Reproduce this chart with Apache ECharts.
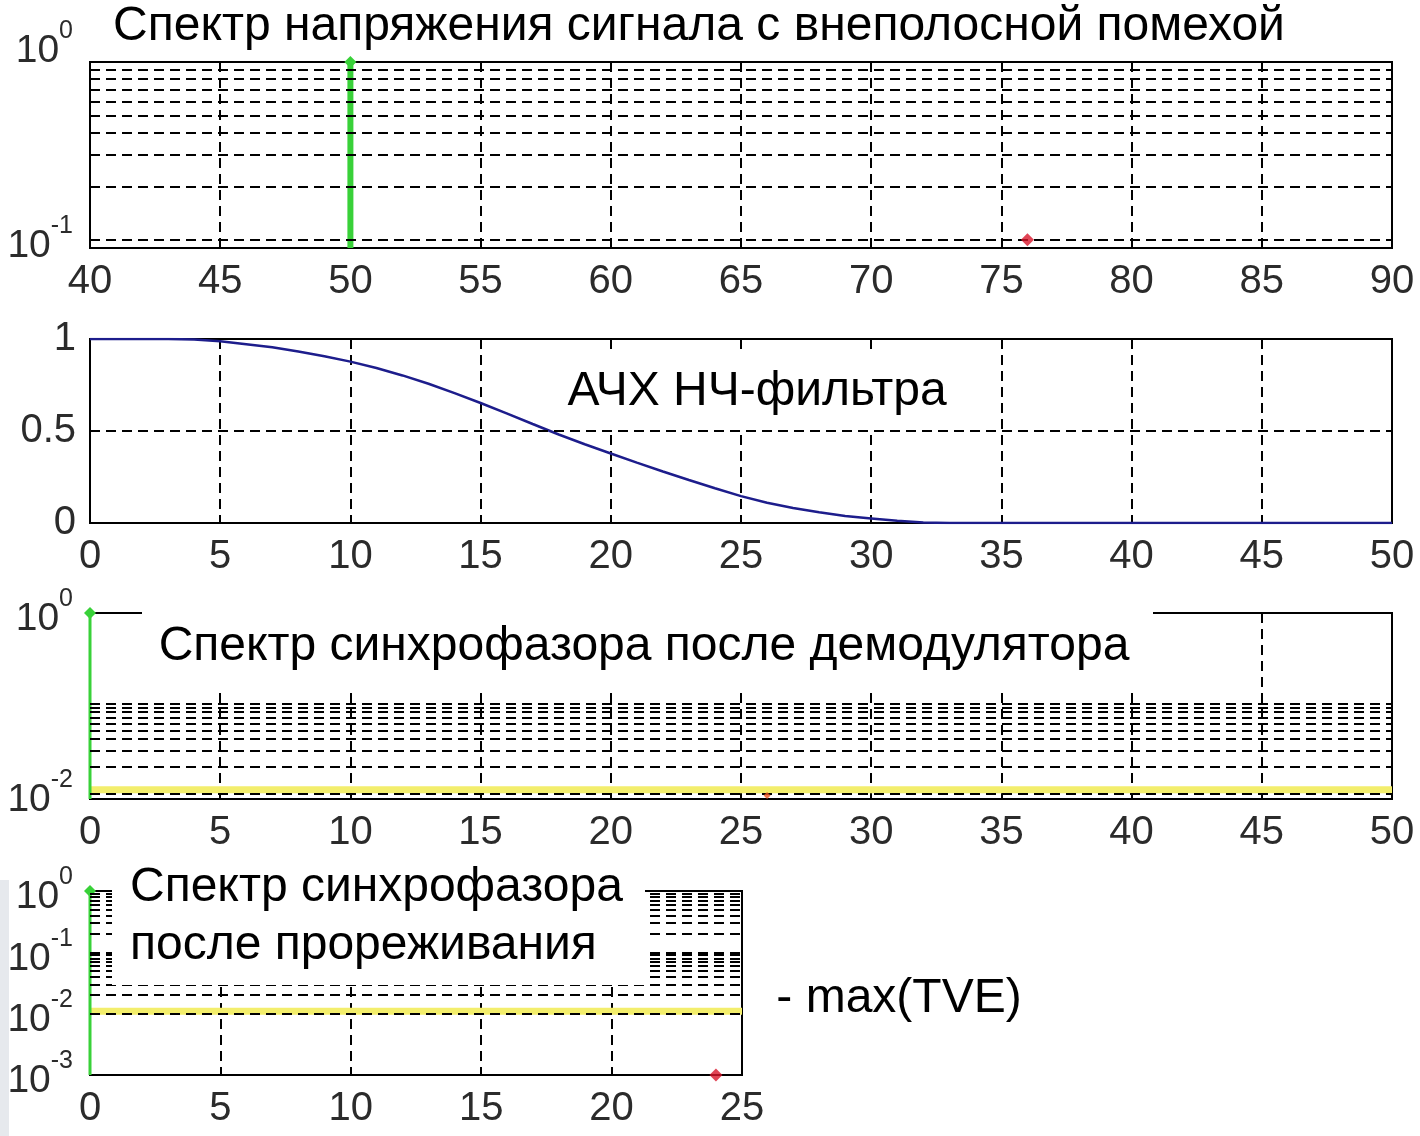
<!DOCTYPE html>
<html>
<head>
<meta charset="utf-8">
<script src="https://cdn.jsdelivr.net/npm/echarts@6/dist/echarts.min.js"></script>
<style>
  html, body { margin: 0; padding: 0; background: #fff; }
  #chart { width: 1420px; height: 1136px; }
</style>
</head>
<body>
<div id="chart"></div>
<script>
// ---- Panel 1: voltage spectrum with out-of-band interference (log scale) ----
const SPEC_FREQ = [50, 76];
const SPEC_AMP = [1, 0.1];
const SPEC_X_TICKS = [40, 45, 50, 55, 60, 65, 70, 75, 80, 85, 90];
const SPEC_Y_RANGE = [0.09, 1];
const SPEC_GRID_Y = [0.1, 0.2, 0.3, 0.4, 0.5, 0.6, 0.7, 0.8, 0.9];
const SPEC_Y_EXP = [-1, 0];

// ---- Panel 2: low-pass filter magnitude response ----
const LPF_FREQ = [0, 1, 2, 3, 4, 5, 6, 7, 8, 9, 10, 11, 12, 13, 14, 15, 16, 17, 18, 19, 20,
  21, 22, 23, 24, 25, 26, 27, 28, 29, 30, 31, 32, 33, 34, 35, 36, 37, 38, 39, 40,
  41, 42, 43, 44, 45, 46, 47, 48, 49, 50];
const LPF_GAIN = [1, 1, 1, 1, 0.997, 0.988, 0.972, 0.955, 0.932, 0.906, 0.877,
  0.842, 0.802, 0.757, 0.706, 0.652, 0.596, 0.538, 0.481, 0.428, 0.378,
  0.328, 0.280, 0.234, 0.189, 0.146, 0.110, 0.082, 0.058, 0.038, 0.025,
  0.012, 0.003, 0, 0, 0, 0, 0, 0, 0, 0,
  0, 0, 0, 0, 0, 0, 0, 0, 0, 0];
const LPF_GRID_Y = [0.5];

// ---- Panel 3: synchrophasor spectrum after the demodulator ----
const DEMOD_FREQ = [0, 26];
const DEMOD_AMP = [1, 0.0095];
const DEMOD_Y_RANGE = [0.0087, 1];
const DEMOD_GRID_Y = [0.01, 0.02, 0.03, 0.04, 0.05, 0.06, 0.07, 0.08, 0.09, 0.1];
const DEMOD_Y_EXP = [-2, 0];

// ---- Panel 4: synchrophasor spectrum after decimation ----
const DEC_FREQ = [0, 24];
const DEC_AMP = [1, 0.001];
const DEC_Y_RANGE = [0.001, 1];
const DEC_GRID_Y = [0.002, 0.003, 0.004, 0.005, 0.006, 0.007, 0.008, 0.009, 0.01,
  0.02, 0.03, 0.04, 0.05, 0.06, 0.07, 0.08, 0.09, 0.1,
  0.2, 0.3, 0.4, 0.5, 0.6, 0.7, 0.8, 0.9];
const DEC_Y_EXP = [-3, -2, -1, 0];

// Threshold level (max TVE) drawn in panels 3 and 4
const TVE_MAX = 0.011;

// ---- styling ----
const FONT = '"Liberation Sans", Arial, sans-serif';
const TICK_COLOR = '#2b2b2b';
const DASH = [10, 6];
const GREEN = '#39d139';
const RED = '#d8152a';
const YELLOW = '#f3ee6c';
const BLUE = '#1d1d8c';
const NOTE_SIZE = 48;

const chart = echarts.init(document.getElementById('chart'), null, { renderer: 'canvas' });

const frames = [
  { left: 90, top: 62, width: 1302, height: 186 },
  { left: 90, top: 339, width: 1302, height: 184 },
  { left: 90, top: 613, width: 1302, height: 186 },
  { left: 90, top: 891, width: 652, height: 184 }
];

const richLog = {
  b: { fontSize: 39, lineHeight: 52, verticalAlign: 'bottom', fontFamily: FONT, color: TICK_COLOR },
  s: { fontSize: 25, lineHeight: 25, verticalAlign: 'top', fontFamily: FONT, color: TICK_COLOR },
  gap: { fontSize: 1, lineHeight: 34 }
};

// decade labels 10^k, only for the exponents listed
function logFormatter(exps, raisedExp) {
  return function (v) {
    const l = Math.log10(v);
    const e = Math.round(l);
    if (Math.abs(l - e) > 1e-6 || exps.indexOf(e) < 0) return '';
    const t = '{b|10}{s|' + e + '}';
    return e === raisedExp ? t + '\n{gap|}' : t;
  };
}

function xAxis(idx, min, max) {
  return {
    type: 'value', gridIndex: idx, min: min, max: max, interval: 5,
    axisLine: { show: true, onZero: false, lineStyle: { color: '#000', width: 2 } },
    axisTick: { show: true, inside: true, length: 7, lineStyle: { color: '#000', width: 2 } },
    axisLabel: { margin: 14, fontSize: 40, fontFamily: FONT, color: TICK_COLOR },
    splitLine: { show: true, lineStyle: { color: '#000', type: DASH, width: 2 } }
  };
}

function logYAxis(idx, range, exps, raisedExp) {
  return {
    type: 'log', logBase: 10, gridIndex: idx, min: range[0], max: range[1],
    axisLine: { show: true, lineStyle: { color: '#000', width: 2 } },
    axisTick: { show: false },
    splitLine: { show: false },
    axisLabel: { margin: 17, formatter: logFormatter(exps, raisedExp), rich: richLog }
  };
}

// horizontal grid lines placed through the y scale
function hGrid(idx, values) {
  return {
    type: 'line', xAxisIndex: idx, yAxisIndex: idx, data: [], z: 1, silent: true,
    markLine: {
      silent: true, animation: false, symbol: ['none', 'none'],
      label: { show: false },
      emphasis: { disabled: true },
      lineStyle: { color: '#000', type: DASH, width: 2 },
      data: values.map(v => ({ yAxis: v }))
    }
  };
}

// vertical stem from the axis floor up to the value, diamond marker at the tip
function stem(idx, x, y, floor, color, width) {
  return {
    type: 'line', xAxisIndex: idx, yAxisIndex: idx, z: 4, silent: true,
    symbol: 'diamond', symbolSize: 12, showSymbol: true,
    itemStyle: { color: color },
    lineStyle: { color: color, width: width },
    data: [{ value: [x, floor], symbol: 'none' }, { value: [x, y] }]
  };
}

function point(idx, x, y, color, size) {
  return {
    type: 'scatter', xAxisIndex: idx, yAxisIndex: idx, z: 6, silent: true,
    symbol: 'diamond', symbolSize: size, clip: false,
    itemStyle: { color: color },
    data: [[x, y]]
  };
}

function level(idx, x0, x1, y) {
  return {
    type: 'line', xAxisIndex: idx, yAxisIndex: idx, z: 3, silent: true,
    symbol: 'none',
    lineStyle: { color: YELLOW, width: 7 },
    data: [[x0, y], [x1, y]]
  };
}

function label(text, x, y, align) {
  return {
    type: 'text', z: 101, silent: true,
    style: {
      text: text, x: x, y: y, fill: '#000',
      font: NOTE_SIZE + 'px ' + FONT,
      align: align || 'center', verticalAlign: 'middle',
      textAlign: align || 'center', textVerticalAlign: 'middle'
    }
  };
}

function whiteBox(x, y, w, h) {
  return { type: 'rect', z: 100, silent: true, shape: { x: x, y: y, width: w, height: h }, style: { fill: '#fff' } };
}

const option = {
  animation: false,
  backgroundColor: '#fff',
  grid: frames.map(f => Object.assign({ show: true, borderColor: '#000', borderWidth: 2, backgroundColor: 'transparent' }, f)),
  xAxis: [
    xAxis(0, SPEC_X_TICKS[0], SPEC_X_TICKS[SPEC_X_TICKS.length - 1]),
    xAxis(1, LPF_FREQ[0], LPF_FREQ[LPF_FREQ.length - 1]),
    xAxis(2, 0, 50),
    xAxis(3, 0, 25)
  ],
  yAxis: [
    logYAxis(0, SPEC_Y_RANGE, SPEC_Y_EXP, 0),
    {
      type: 'value', gridIndex: 1, min: 0, max: 1, interval: 0.5,
      axisLine: { show: true, lineStyle: { color: '#000', width: 2 } },
      axisTick: { show: true, inside: true, length: 7, lineStyle: { color: '#000', width: 2 } },
      splitLine: { show: false },
      axisLabel: { margin: 14, fontSize: 40, fontFamily: FONT, color: TICK_COLOR }
    },
    logYAxis(2, DEMOD_Y_RANGE, DEMOD_Y_EXP, null),
    logYAxis(3, DEC_Y_RANGE, DEC_Y_EXP, null)
  ],
  series: [
    // panel 1
    hGrid(0, SPEC_GRID_Y),
    stem(0, SPEC_FREQ[0], SPEC_AMP[0], SPEC_Y_RANGE[0], GREEN, 6),
    point(0, SPEC_FREQ[1], SPEC_AMP[1], RED, 13),
    // panel 2
    hGrid(1, LPF_GRID_Y),
    {
      type: 'line', xAxisIndex: 1, yAxisIndex: 1, z: 4, silent: true,
      symbol: 'none', lineStyle: { color: BLUE, width: 2.5 },
      data: LPF_FREQ.map((f, i) => [f, LPF_GAIN[i]])
    },
    // panel 3
    hGrid(2, DEMOD_GRID_Y),
    level(2, 0, 50, TVE_MAX),
    point(2, DEMOD_FREQ[1], DEMOD_AMP[1], '#ee5522', 7),
    stem(2, DEMOD_FREQ[0], DEMOD_AMP[0], DEMOD_Y_RANGE[0], GREEN, 3),
    // panel 4
    hGrid(3, DEC_GRID_Y),
    level(3, 0, 25, TVE_MAX),
    point(3, DEC_FREQ[1], DEC_AMP[1], RED, 13),
    stem(3, DEC_FREQ[0], DEC_AMP[0], DEC_Y_RANGE[0], GREEN, 3)
  ],
  graphic: [
    { type: 'rect', z: 99, silent: true, shape: { x: 0, y: 880, width: 9, height: 256 }, style: { fill: '#e6e9ed' } },
    label('Спектр напряжения сигнала с внеполосной помехой', 699, 27),
    whiteBox(553, 352, 407, 78),
    label('АЧХ НЧ-фильтра', 757, 392),
    whiteBox(142, 598, 1011, 89),
    label('Спектр синхрофазора после демодулятора', 644, 647),
    whiteBox(112, 862, 533, 123),
    label('Спектр синхрофазора', 130, 888, 'left'),
    label('после прореживания', 130, 946, 'left'),
    label('- max(TVE)', 899, 999)
  ]
};

chart.setOption(option);
</script>
</body>
</html>
